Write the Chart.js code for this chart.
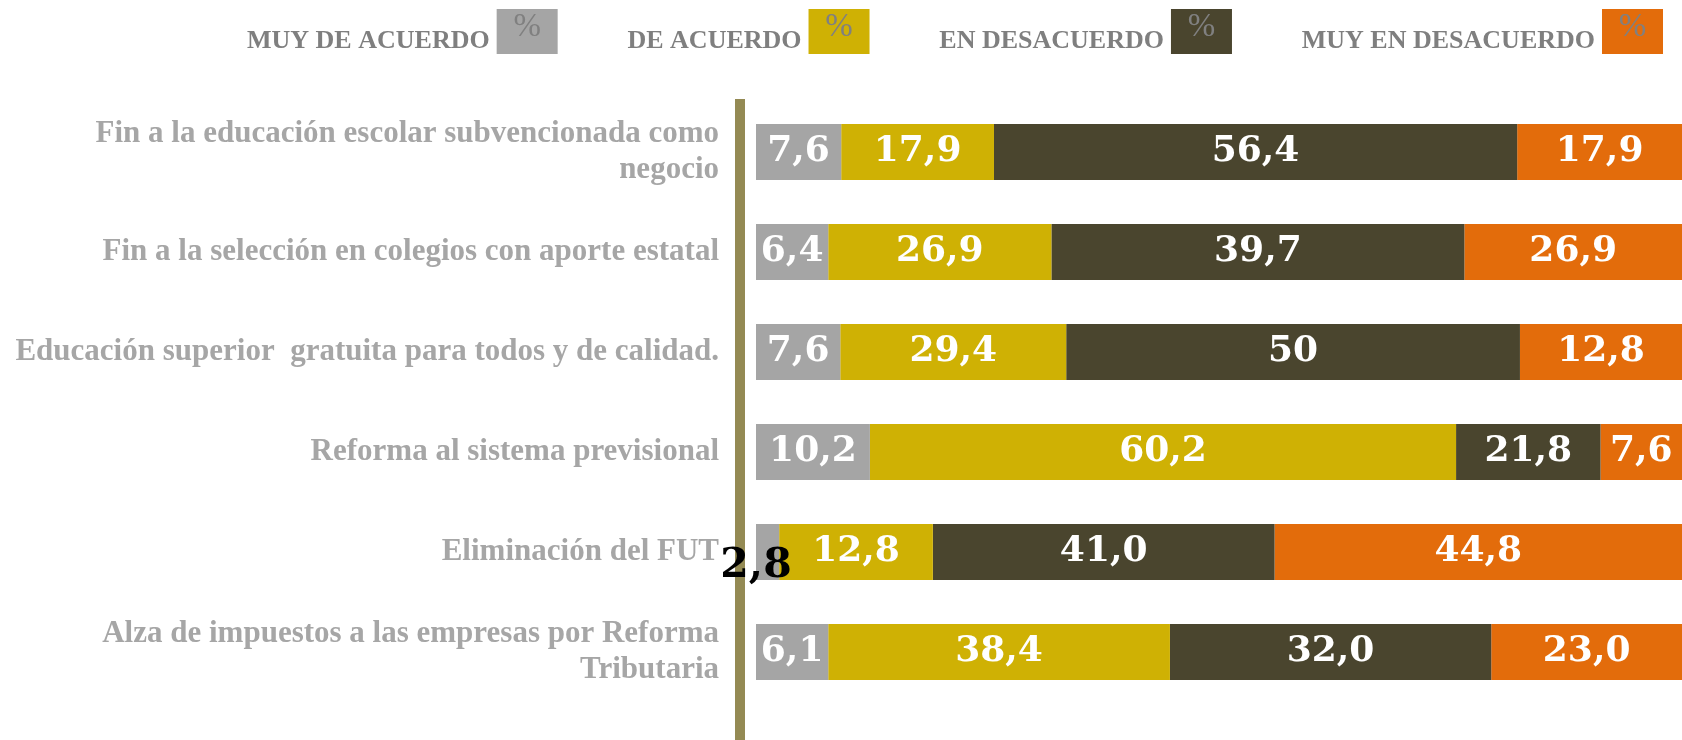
<!DOCTYPE html>
<html>
<head>
<meta charset="utf-8">
<script src="https://cdn.jsdelivr.net/npm/chart.js@4"></script>
<style>
  html, body { margin: 0; padding: 0; background: #fff; }
  #wrap { width: 1682px; height: 740px; position: relative; }
</style>
</head>
<body>
<div id="wrap"><canvas id="opinionChart"></canvas></div>
<script>
'use strict';

// Categories (rows, top to bottom)
const categories = [
  ['Fin a la educación escolar subvencionada como', 'negocio'],
  'Fin a la selección en colegios con aporte estatal',
  'Educación superior  gratuita para todos y de calidad.',
  'Reforma al sistema previsional',
  'Eliminación del FUT',
  ['Alza de impuestos a las empresas por Reforma', 'Tributaria']
];

const seriesNames = ['MUY DE ACUERDO', 'DE ACUERDO', 'EN DESACUERDO', 'MUY EN DESACUERDO'];
const seriesColors = ['#a5a5a5', '#cfb104', '#4a452e', '#e36c0b'];

// Bar lengths as drawn (share of each row, %)
const muyDeAcuerdo = [9.2, 7.8, 9.1, 12.3, 2.5, 7.8];
const deAcuerdo = [16.5, 24.1, 24.4, 63.3, 16.6, 36.9];
const enDesacuerdo = [56.5, 44.6, 49.0, 15.6, 36.9, 34.7];
const muyEnDesacuerdo = [17.8, 23.5, 17.5, 8.8, 44.0, 20.6];

// Numbers printed on the bars
const muyDeAcuerdoTxt = ['7,6', '6,4', '7,6', '10,2', '2,8', '6,1'];
const deAcuerdoTxt = ['17,9', '26,9', '29,4', '60,2', '12,8', '38,4'];
const enDesacuerdoTxt = ['56,4', '39,7', '50', '21,8', '41,0', '32,0'];
const muyEnDesacuerdoTxt = ['17,9', '26,9', '12,8', '7,6', '44,8', '23,0'];

(function () {
  const values = [muyDeAcuerdo, deAcuerdo, enDesacuerdo, muyEnDesacuerdo];
  const printed = [muyDeAcuerdoTxt, deAcuerdoTxt, enDesacuerdoTxt, muyEnDesacuerdoTxt];

  const labelFont = 'bold 36px "DejaVu Serif"';
  const smallBarFont = 'bold 41px "DejaVu Serif"';

  // left axis line, bar value labels and top legend
  const overlayPlugin = {
    id: 'overlay',
    beforeDatasetsDraw(chart) {
      const ctx = chart.ctx;
      const area = chart.chartArea;
      ctx.save();
      ctx.fillStyle = '#948a54';
      ctx.fillRect(area.left - 21, area.top - 3, 10, chart.height - area.top + 3);
      ctx.restore();
    },
    afterDatasetsDraw(chart) {
      const ctx = chart.ctx;
      const area = chart.chartArea;
      ctx.save();
      ctx.textAlign = 'center';
      ctx.textBaseline = 'middle';
      chart.data.datasets.forEach((ds, i) => {
        const meta = chart.getDatasetMeta(i);
        meta.data.forEach((bar, j) => {
          const p = bar.getProps(['x', 'base', 'y'], true);
          const left = Math.min(p.x, p.base);
          const right = Math.min(Math.max(p.x, p.base), area.right);
          const text = printed[i][j];
          ctx.font = labelFont;
          const w = ctx.measureText(text).width;
          if (w + 6 <= right - left) {
            ctx.fillStyle = '#ffffff';
            ctx.fillText(text, (left + right) / 2, p.y);
          } else {
            // too narrow: dark label sitting on the bar start
            ctx.font = smallBarFont;
            ctx.fillStyle = '#000000';
            ctx.fillText(text, left, p.y + 14);
          }
        });
      });
      ctx.restore();
    },
    afterDraw(chart) {
      const ctx = chart.ctx;
      ctx.save();
      // legend: text then coloured box with %
      const boxW = 61, boxH = 45, boxTop = 9, gapTxt = 7;
      const startX = 247, endX = chart.width - 19;
      ctx.font = 'bold 26px "Liberation Serif"';
      const widths = seriesNames.map(n => ctx.measureText(n).width + gapTxt + boxW);
      const total = widths.reduce((a, b) => a + b, 0);
      const gap = (endX - startX - total) / (seriesNames.length - 1);
      let x = startX;
      seriesNames.forEach((name, i) => {
        ctx.font = 'bold 26px "Liberation Serif"';
        ctx.fillStyle = '#7f7f7f';
        ctx.textAlign = 'left';
        ctx.textBaseline = 'alphabetic';
        ctx.fillText(name, x, 48);
        const bx = x + widths[i] - boxW;
        ctx.fillStyle = seriesColors[i];
        ctx.fillRect(bx, boxTop, boxW, boxH);
        ctx.font = '33px "Liberation Serif"';
        ctx.fillStyle = '#808080';
        ctx.textAlign = 'center';
        ctx.textBaseline = 'middle';
        ctx.fillText('%', bx + boxW / 2, boxTop + boxH / 2 - 4);
        x += widths[i] + gap;
      });
      ctx.restore();
    }
  };

  const ctx = document.getElementById('opinionChart').getContext('2d');

  new Chart(ctx, {
    type: 'bar',
    data: {
      labels: categories,
      datasets: seriesNames.map((name, i) => ({
        label: name,
        data: values[i],
        backgroundColor: seriesColors[i],
        borderWidth: 0,
        barPercentage: 0.56,
        categoryPercentage: 1
      }))
    },
    options: {
      indexAxis: 'y',
      responsive: true,
      maintainAspectRatio: false,
      animation: false,
      layout: {
        padding: { top: 102, bottom: 38, left: 0, right: 0 }
      },
      plugins: {
        legend: { display: false },
        tooltip: { enabled: false }
      },
      scales: {
        x: {
          stacked: true,
          min: 0,
          max: 100,
          display: false
        },
        y: {
          stacked: true,
          grid: { display: false, drawTicks: false },
          border: { display: false },
          ticks: {
            color: '#a6a6a6',
            padding: 37,
            font: { family: 'Liberation Serif', weight: 'bold', size: 31, lineHeight: 1.15 }
          },
          afterFit(scale) {
            scale.width = 756;
            scale.paddingTop = 0;
            scale.paddingBottom = 0;
          }
        }
      }
    },
    plugins: [overlayPlugin]
  });
})();
</script>
</body>
</html>
